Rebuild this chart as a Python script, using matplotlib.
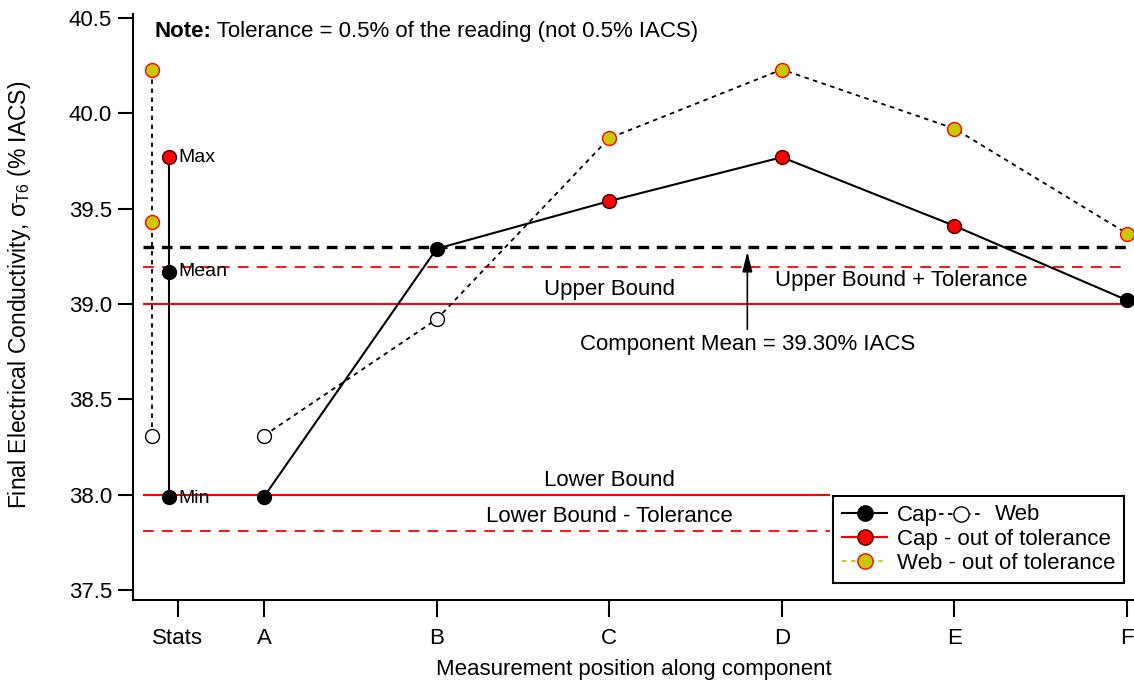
import numpy as np
import matplotlib
matplotlib.use('Agg')
import matplotlib.pyplot as plt
from matplotlib.lines import Line2D

plt.rcParams['font.family'] = ['Liberation Sans', 'DejaVu Sans']
plt.rcParams['mathtext.fontset'] = 'custom'
plt.rcParams['mathtext.rm'] = 'Liberation Sans'
plt.rcParams['mathtext.bf'] = 'Liberation Sans:bold'
plt.rcParams['mathtext.it'] = 'Liberation Sans:italic'

# data
positions = ['A', 'B', 'C', 'D', 'E', 'F']
cap = [37.99, 39.29, 39.54, 39.77, 39.41, 39.02]
web = [38.31, 38.92, 39.87, 40.23, 39.92, 39.37]
cap_out = [False, False, True, True, True, False]
web_out = [False, False, True, True, True, True]

stat_names = ['Max', 'Mean', 'Min']
cap_stats = [39.77, 39.17, 37.99]
web_stats = [40.23, 39.43, 38.31]
cap_stats_out = [True, False, False]
web_stats_out = [True, True, False]

upper_bound = 39.0
lower_bound = 38.0
tolerance = 0.005
component_mean = 39.30

YELLOW = '#c8c800'
FS = 16

x = np.arange(1, len(positions) + 1)
x_cap_stat = 0.45
x_web_stat = 0.35

fig = plt.figure(figsize=(11.34, 6.84), dpi=100)
ax = fig.add_axes([0.1173, 0.1228, 0.8827, 0.8567])

# reference lines (the lower ones stop where the legend starts)
ax.hlines(upper_bound, 0.3, 6.0, color='red', lw=1.5, zorder=1)
ax.hlines(lower_bound, 0.3, 4.28, color='red', lw=1.5, zorder=1)
ax.hlines(upper_bound * (1 + tolerance), 0.3, 6.0, color='red', lw=1.3,
          linestyles=(0, (6, 4.5)), zorder=1)
ax.hlines(lower_bound * (1 - tolerance), 0.3, 4.28, color='red', lw=1.3,
          linestyles=(0, (6, 4.5)), zorder=1)
ax.hlines(component_mean, 0.3, 6.0, color='black', lw=2.4,
          linestyles=(0, (3.2, 2.3)), zorder=1)

# stats columns
ax.plot([x_web_stat, x_web_stat], [min(web_stats), max(web_stats)], color='black',
        lw=1.3, ls=(0, (2.5, 2.5)), zorder=2)
ax.plot([x_cap_stat, x_cap_stat], [min(cap_stats), max(cap_stats)], color='black',
        lw=1.5, zorder=2)

# profiles
ax.plot(x, web, color='black', lw=1.3, ls=(0, (2.5, 2.5)), zorder=2)
ax.plot(x, cap, color='black', lw=1.5, zorder=2)

def draw_points(xs, ys, outs, kind):
    for xi, yi, o in zip(xs, ys, outs):
        if kind == 'cap':
            fc, ec = ('red', '#400000') if o else ('black', 'black')
        else:
            fc, ec = (YELLOW, 'red') if o else ('white', 'black')
        ax.plot(xi, yi, 'o', ms=10, mfc=fc, mec=ec, mew=1.0, zorder=3)

draw_points(x, web, web_out, 'web')
draw_points(x, cap, cap_out, 'cap')
draw_points([x_web_stat] * 3, web_stats, web_stats_out, 'web')
draw_points([x_cap_stat] * 3, cap_stats, cap_stats_out, 'cap')

for name, v in zip(stat_names, cap_stats):
    dy = -0.01 if name == 'Min' else 0
    ax.text(0.505, v + dy, name, ha='left', va='center', fontsize=14)

# annotations
ax.text(3.0, upper_bound + 0.02, 'Upper Bound', ha='center', va='bottom', fontsize=FS)
ax.text(3.0, lower_bound + 0.02, 'Lower Bound', ha='center', va='bottom', fontsize=FS)
ax.text(3.0, lower_bound * (1 - tolerance) + 0.02, 'Lower Bound - Tolerance',
        ha='center', va='bottom', fontsize=FS)
ax.text(4.69, upper_bound * (1 + tolerance) - 0.015, 'Upper Bound + Tolerance',
        ha='center', va='top', fontsize=FS)
ax.annotate('Component Mean = 39.30% IACS', xy=(3.8, 39.275),
            xytext=(3.8, 38.79), ha='center', va='center', fontsize=FS,
            arrowprops=dict(arrowstyle='-|>,head_length=0.6,head_width=0.15',
                            color='black', lw=1.2, mutation_scale=20,
                            shrinkA=1, shrinkB=0))
t_note = ax.text(0.363, 40.43, 'Note:', ha='left', va='center', fontsize=FS,
                 fontweight='bold')
ax.annotate(' Tolerance = 0.5% of the reading (not 0.5% IACS)', xy=(1, 0.5),
            xycoords=t_note, ha='left', va='center', fontsize=FS)

# axes styling
ax.set_xlim(0.241, 6.04)
ax.set_ylim(37.448, 40.521)
ax.set_xticks([0.5] + list(x))
ax.set_xticklabels(['Stats'] + positions)
yt = np.arange(37.5, 40.51, 0.5)
ax.set_yticks(yt)
ax.set_yticklabels(['%.1f' % v for v in yt])
ax.tick_params(axis='both', direction='out', labelsize=FS, width=1.5)
ax.tick_params(axis='y', length=11, pad=4)
ax.tick_params(axis='x', length=12, pad=8)
for s in ['top', 'right']:
    ax.spines[s].set_visible(False)
for s in ['left', 'bottom']:
    ax.spines[s].set_linewidth(1.5)

ax.set_xlabel('Measurement position along component', fontsize=FS, labelpad=7)
ax.set_ylabel(r'Final Electrical Conductivity, σ$_{\mathrm{T6}}$ (% IACS)', fontsize=16.5)
ax.yaxis.set_label_coords(-0.100, 0.52)

# legend
h_cap = Line2D([], [], color='black', lw=1.5, marker='o', ms=11, mfc='black', mec='black')
h_cap_out = Line2D([], [], color='red', lw=1.5, marker='o', ms=11, mfc='red', mec='#400000')
h_web_out = Line2D([], [], color=YELLOW, lw=1.3, ls=(0, (2.5, 2.5)), marker='o', ms=11,
                   mfc=YELLOW, mec='red')
leg = ax.legend([h_cap, h_cap_out, h_web_out],
                ['Cap', 'Cap - out of tolerance', 'Web - out of tolerance'],
                loc='lower right', bbox_to_anchor=(0.99, 0.029), fontsize=FS,
                fancybox=False, framealpha=1, edgecolor='black',
                handlelength=2.0, handletextpad=0.45, labelspacing=0.14,
                borderpad=0.4, borderaxespad=0)
leg.get_frame().set_linewidth(1.5)

# second half of the first legend entry: dotted line with open marker, then "Web"
fig.canvas.draw()
bb = leg.get_texts()[0].get_window_extent()
inv = fig.transFigure.inverted()
x0, y0 = inv.transform((bb.x1 + 1, (bb.y0 + bb.y1) / 2 + 1))
x1, _ = inv.transform((bb.x1 + 46, 0))
xm = (x0 + x1) / 2
fig.add_artist(Line2D([x0, x1], [y0, y0], color='black', lw=1.3, ls=(0, (2.5, 2.5)),
                      transform=fig.transFigure, zorder=10))
fig.add_artist(Line2D([xm], [y0], marker='o', ms=11, mfc='white', mec='black',
                      transform=fig.transFigure, zorder=11))
fig.text(x1 + 0.010, y0, 'Web', ha='left', va='center', fontsize=FS, zorder=11)

fig.savefig('out.png', dpi=100)
